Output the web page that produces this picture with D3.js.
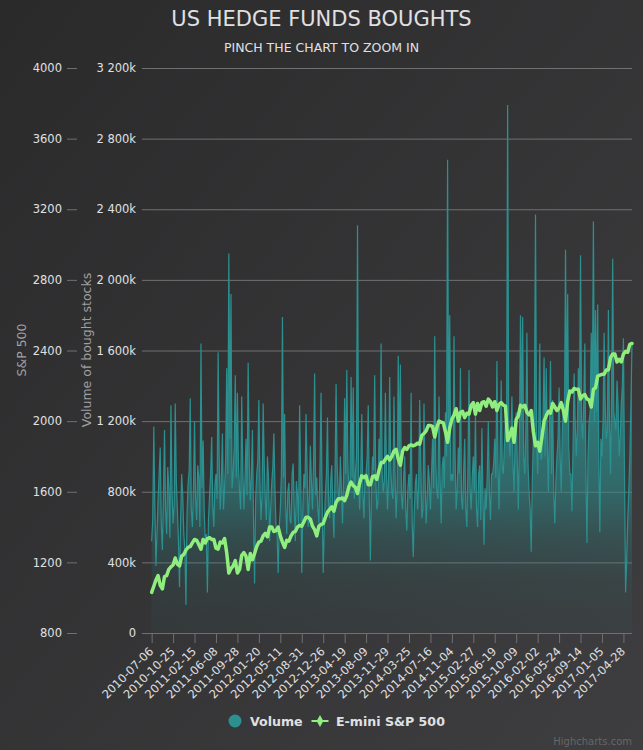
<!DOCTYPE html>
<html><head><meta charset="utf-8">
<script src="https://cdn.jsdelivr.net/npm/d3@7"></script>
<style>
html,body{margin:0;padding:0;background:#2a2a2b;}
svg{display:block;font-family:"DejaVu Sans",Verdana,sans-serif;}
</style>
</head><body>
<svg id="c" width="643" height="750"></svg>
<script>
// ---------- DATA ----------
const tickLabels = ["2010-07-06","2010-10-25","2011-02-15","2011-06-08","2011-09-28","2012-01-20","2012-05-11","2012-08-31","2012-12-26","2013-04-19","2013-08-09","2013-11-29","2014-03-25","2014-07-16","2014-11-04","2015-02-27","2015-06-19","2015-10-09","2016-02-02","2016-05-24","2016-09-14","2017-01-05","2017-04-28"];
const TICK_STEP = 80;   // trading days between labelled categories
const SP_STEP = 8;      // trading days between merged S&P samples
const VOL_STEP = 4;     // trading days between merged volume samples
const LAST_DAY = 1792;
const FIRST_DAY = -36;

// E-mini S&P 500 (points), every 16 trading days
const spValues = [
 1030,1100,1070,1120,1160,1185,1190,1235,1270,1290,
 1330,1300,1330,1335,1330,1280,1315,1335,1140,1180,
 1140,1240,1235,1250,1250,1315,1350,1345,1400,1380,
 1350,1285,1320,1370,1400,1405,1455,1445,1385,1405,
 1420,1485,1515,1540,1560,1550,1630,1635,1590,1690,
 1690,1640,1690,1720,1765,1800,1800,1840,1750,1850,
 1860,1860,1875,1920,1945,1975,1910,2000,1990,1880,
 2010,2070,2050,2020,2040,2105,2100,2105,2085,2110,
 2110,2095,2090,1890,1960,2010,2090,2090,2035,1940,
 1880,1910,2030,2045,2080,2075,2060,2110,2165,2180,
 2125,2150,2120,2180,2255,2265,2290,2360,2380,2350,
 2380,2390,2440
];
// E-mini S&P 500, in-between samples (8 days after each value above)
const spMid = [
 1065,1125,1050,1125,1175,1225,1180,1245,1285,1310,
 1325,1275,1310,1340,1330,1275,1310,1255,1165,1210,
 1160,1255,1160,1215,1290,1320,1365,1400,1375,1400,
 1315,1325,1350,1375,1410,1430,1455,1405,1350,1415,
 1455,1500,1490,1560,1565,1580,1655,1625,1650,1680,
 1640,1685,1670,1765,1785,1780,1830,1785,1830,1840,
 1865,1865,1870,1930,1975,1970,1965,1995,1940,1960,
 2035,2000,2055,2045,2090,2040,2060,2110,2125,2080,
 2060,2105,2085,1920,1880,2030,2080,2050,2060,1860,
 1830,2000,2055,2100,2060,2105,2000,2170,2185,2180,
 2145,2125,2080,2190,2260,2265,2290,2380,2335,2335,
 2395,2435
];

// Volume of bought stocks (thousands), every 8 trading days
const volValues = [
 520,1170,380,760,1050,470,1150,560,820,1290,
 620,1300,700,260,900,560,160,850,1330,600,
 1200,640,880,1640,1090,520,230,780,1110,600,
 900,1590,700,1130,820,1500,2150,1920,900,1460,
 1360,800,1340,700,1100,1530,750,1150,280,900,
 1320,640,1300,750,1000,520,850,1130,600,340,
 700,1790,1240,560,850,620,960,520,780,1290,
 340,900,1240,600,1060,700,1470,880,620,1360,
 340,780,1220,650,950,540,1410,800,1000,620,
 1330,1490,800,1450,1390,900,2310,700,1240,650,
 900,1290,410,1000,1460,700,1100,1640,800,1360,
 700,1450,800,1340,650,1570,1520,700,1000,580,
 900,1360,430,850,700,1320,650,1300,620,950,
 700,1100,1680,800,1340,620,1000,1250,2680,1800,
 900,1680,700,1050,1500,700,1100,600,1490,700,
 1000,1240,600,950,1160,500,700,1200,640,900,
 1100,1540,700,1430,900,1200,2990,1000,1340,800,
 1250,700,1800,1790,900,1700,800,460,1100,2370,
 900,1640,1000,1560,1500,800,1540,1320,620,1000,
 1390,800,1300,2170,1920,900,690,1470,1000,1500,
 2140,1100,1640,510,1200,1700,2330,1830,1860,570,
 1000,1700,1100,1830,900,2120,1200,1430,1000,1300,
 1670,230,640,1000,1640
];
// Volume, in-between samples (4 days after each value above)
const volMid = [
 640,720,560,900,610,780,700,940,540,800,
 720,860,520,640,780,470,680,920,700,820,
 760,950,600,820,700,560,640,900,720,840,
 760,1000,860,700,980,900,1100,820,1050,880,
 940,700,920,860,780,1000,880,640,760,980,
 860,780,960,640,880,700,940,820,560,600,
 900,880,720,800,640,900,700,860,620,880,
 700,820,920,760,860,960,780,700,940,760,
 600,900,740,860,700,880,960,740,820,880,
 900,960,820,880,760,1000,860,900,780,900,
 1000,760,820,920,880,740,960,900,860,920,
 880,940,760,900,820,980,780,880,700,820,
 760,620,700,900,820,960,700,880,760,860,
 900,820,960,760,880,940,820,1000,1100,860,
 860,1000,820,900,760,920,700,940,820,880,
 800,700,900,640,760,820,900,800,900,960,
 880,960,1000,940,1060,1100,1200,1080,960,1100,
 980,1100,1200,1000,1150,960,700,860,1300,1100,
 1150,980,1200,1000,1100,1150,900,800,860,1100,
 1000,1150,1200,1300,1050,900,1050,1200,1150,1300,
 1200,1300,900,1000,1250,1300,1200,1250,1000,1100,
 1200,1300,1150,1200,1350,1250,1150,1300,1100,1400,
 900,400,800,1300
];

const spTicks = [800,1200,1600,2000,2400,2800,3200,3600,4000];
const volTicks = [0,400,800,1200,1600,2000,2400,2800,3200];

// merged series tables
const interleave = (a,b) => a.flatMap((v,i)=> i<b.length ? [v,b[i]] : [v]);
const spSeries = interleave(spValues, spMid);
const volSeries = interleave(volValues, volMid);

// ---------- CHART ----------
const svg = d3.select("#c");
const W = 643, H = 750;
const plotL = 142, plotR = 632, plotT = 68, plotB = 633;

const defs = svg.append("defs");
const bg = defs.append("linearGradient").attr("id","bg")
  .attr("x1",0).attr("y1",0).attr("x2",1).attr("y2",1);
bg.append("stop").attr("offset","0").attr("stop-color","#2a2a2b");
bg.append("stop").attr("offset","1").attr("stop-color","#3e3e40");

svg.append("rect").attr("width",W).attr("height",H).attr("fill","url(#bg)");

const x = d3.scaleLinear().domain([FIRST_DAY, LAST_DAY]).range([plotL, plotR]);
const yVol = d3.scaleLinear().domain([0,3200]).range([plotB, plotT]);
const ySp = d3.scaleLinear().domain([800,4000]).range([plotB, plotT]);

const vg = defs.append("linearGradient").attr("id","volGrad")
  .attr("gradientUnits","userSpaceOnUse")
  .attr("x1",0).attr("x2",0).attr("y1",yVol(d3.max(volSeries))).attr("y2",plotB);
[[0,1],[0.5,0.85],[0.72,0.55],[0.82,0.25],[0.9,0.1],[1,0.04]].forEach(([o,a])=>
  vg.append("stop").attr("offset",o).attr("stop-color","#2b908f").attr("stop-opacity",a));

// grid lines
svg.append("g").selectAll("line").data(volTicks.filter(d=>d>0)).join("line")
  .attr("x1",plotL).attr("x2",plotR)
  .attr("y1",d=>yVol(d)+0.5).attr("y2",d=>yVol(d)+0.5)
  .attr("stroke","#707073").attr("stroke-width",1);

// volume area
const area = d3.area()
  .x((d,i)=>x(i*VOL_STEP)).y0(yVol(0)).y1(d=>yVol(d));
svg.append("path").datum(volSeries).attr("d",area).attr("fill","url(#volGrad)");
const vline = d3.line().x((d,i)=>x(i*VOL_STEP)).y(d=>yVol(d));
svg.append("path").datum(volSeries).attr("d",vline)
  .attr("fill","none").attr("stroke","#2b908f").attr("stroke-width",1.2);

// S&P line
const sline = d3.line().x((d,i)=>x(i*SP_STEP)).y(d=>ySp(d));
svg.append("path").datum(spSeries).attr("d",sline)
  .attr("fill","none").attr("stroke","#90ee7e").attr("stroke-width",3.5)
  .attr("stroke-linejoin","round").attr("stroke-linecap","round");

// axes
const labelFont = "11.5px";
const spAxis = svg.append("g").attr("transform","translate(77,0)")
  .call(d3.axisLeft(ySp).tickValues(spTicks).tickSize(10).tickPadding(5).tickFormat(d3.format("d")));
spAxis.select(".domain").remove();
spAxis.selectAll("line").attr("stroke","#707073");
spAxis.selectAll("text").attr("fill","#E0E0E3").style("font-size",labelFont).style("font-family","DejaVu Sans");

const fmtVol = v => v===0 ? "0" : d3.format(",")(v).replace(/,/g," ")+"k";
const volAxis = svg.append("g").attr("transform",`translate(${plotL},0)`)
  .call(d3.axisLeft(yVol).tickValues(volTicks).tickSize(0).tickPadding(6).tickFormat(fmtVol));
volAxis.select(".domain").remove();
volAxis.selectAll("text").attr("fill","#E0E0E3").style("font-size",labelFont).style("font-family","DejaVu Sans");

const xAxis = svg.append("g").attr("transform",`translate(0,${plotB})`)
  .call(d3.axisBottom(x).tickValues(tickLabels.map((d,i)=>i*TICK_STEP))
    .tickSize(10).tickSizeOuter(0).tickFormat((d,i)=>tickLabels[i]));
xAxis.select(".domain").attr("stroke","#707073").attr("d",`M${plotL},0.5H${plotR}`);
xAxis.selectAll(".tick line").attr("stroke","#707073");
xAxis.selectAll("text")
  .attr("x",0).attr("y",0).attr("dy",null)
  .attr("transform","translate(2,19) rotate(-45)")
  .style("text-anchor","end")
  .attr("fill","#E0E0E3").style("font-size",labelFont).style("font-family","DejaVu Sans");

// axis titles
svg.append("text").attr("transform","translate(26,350) rotate(-90)")
  .attr("text-anchor","middle").attr("fill","#A0A0A3").style("font-size","12.5px")
  .text("S&P 500");
svg.append("text").attr("transform","translate(90.5,350) rotate(-90)")
  .attr("text-anchor","middle").attr("fill","#A0A0A3").style("font-size","12.5px")
  .text("Volume of bought stocks");

// title
svg.append("text").attr("x",321.5).attr("y",26).attr("text-anchor","middle")
  .attr("fill","#E0E0E3").style("font-size","21px").text("US HEDGE FUNDS BOUGHTS");
svg.append("text").attr("x",321.5).attr("y",51.5).attr("text-anchor","middle")
  .attr("fill","#E0E0E3").style("font-size","12.5px").text("PINCH THE CHART TO ZOOM IN");

// legend
const lg = svg.append("g");
lg.append("circle").attr("cx",235).attr("cy",721).attr("r",6.5).attr("fill","#2b908f");
lg.append("text").attr("x",250).attr("y",725.5).attr("fill","#E0E0E3")
  .style("font-size","12.6px").style("font-weight","bold").text("Volume");
lg.append("line").attr("x1",311.5).attr("x2",328.5).attr("y1",721).attr("y2",721)
  .attr("stroke","#90ee7e").attr("stroke-width",2);
lg.append("path").attr("d",d3.symbol().type(d3.symbolDiamond).size(40)())
  .attr("transform","translate(320,721)").attr("fill","#90ee7e");
lg.append("text").attr("x",336).attr("y",725.5).attr("fill","#E0E0E3")
  .style("font-size","12.6px").style("font-weight","bold").text("E-mini S&P 500");

// credits
svg.append("text").attr("x",632).attr("y",745).attr("text-anchor","end")
  .attr("fill","#666666").style("font-size","10px").text("Highcharts.com");
</script>
</body></html>
